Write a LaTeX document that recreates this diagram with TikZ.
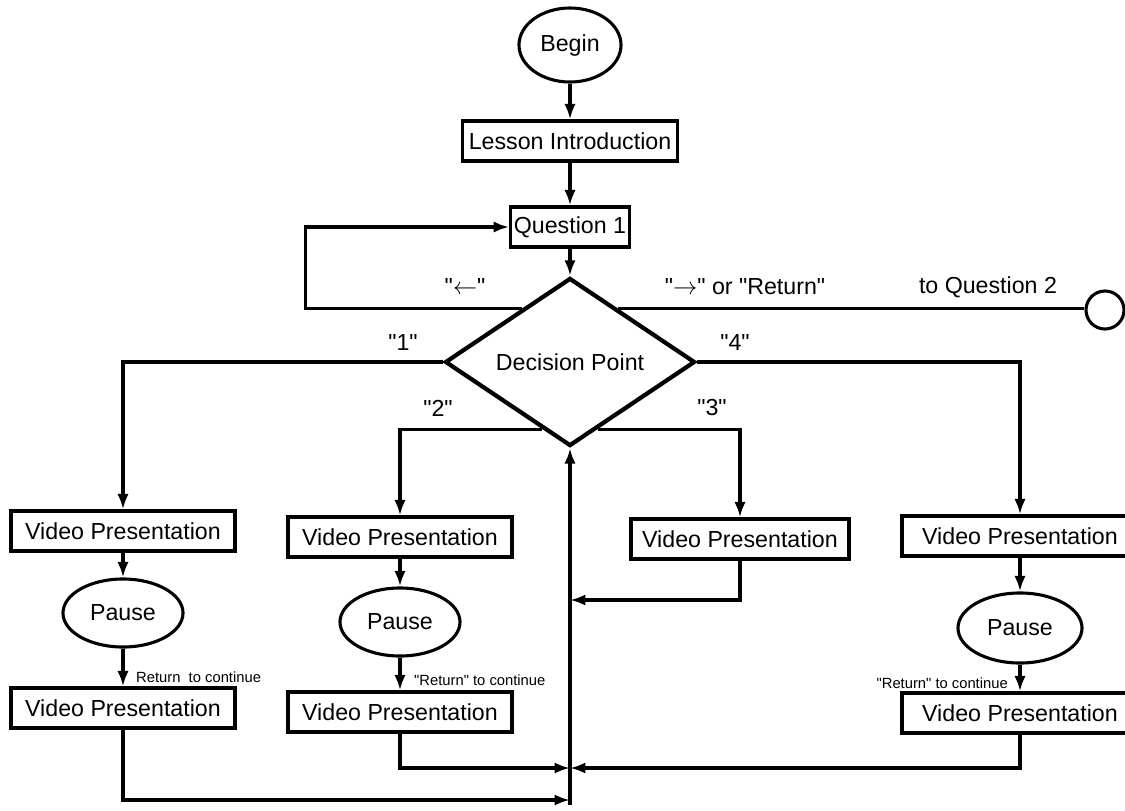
\documentclass[tikz,border=0pt]{standalone}
\usepackage{fontspec}
\setmainfont{Liberation Sans}[Ligatures=TeXOff]
\usetikzlibrary{shapes.geometric,arrows.meta,calc}

\newcommand{\flowfont}{\fontsize{16.5}{19}\selectfont}
\newcommand{\notefont}{\fontsize{10.5}{12}\selectfont}

\begin{document}
\begin{tikzpicture}[x=0.025cm, y=-0.025cm, line width=2.2pt,
		>={Latex[length=11pt,width=8pt]},
		box/.style={draw, rectangle, minimum height=1cm, inner xsep=0.15cm, font=\flowfont},
		vbox/.style={box, minimum width=5.6cm},
		oval/.style={draw, ellipse, inner sep=0pt, font=\flowfont},
		lbl/.style={font=\flowfont},
		note/.style={font=\notefont}]
			\useasboundingbox (0,0) rectangle (1125,810);

			\node[oval, minimum width=2.55cm, minimum height=1.85cm] (begin) at ( 570, 45 ) { Begin };
			\node[box] (intro) at ( 570, 141 ) { Lesson Introduction };
			\node[box, inner xsep=0.08cm] (q1) at ( 570, 227 ) { Question 1 };
			\node[draw, diamond, line width=3pt, minimum width=6.25cm, minimum height=4.2cm, inner sep=0pt, font=\flowfont] (dp) at ( 570, 362 ) { Decision Point };
			\node[draw, circle, minimum size=0.95cm, inner sep=0pt] (q2) at ( 1105, 310 ) {};

			\node[vbox] (vp1) at ( 123, 531 ) { Video Presentation };
			\node[vbox] (vp2) at ( 400, 537 ) { Video Presentation };
			\node[vbox, minimum width=5.45cm] (vp3) at ( 740, 539 ) { Video Presentation };
			\node[vbox, minimum width=5.9cm] (vp4) at ( 1020, 536 ) { Video Presentation };

			\node[oval, minimum width=3cm, minimum height=1.7cm] (p1) at ( 123, 613 ) { Pause };
			\node[oval, minimum width=3cm, minimum height=1.7cm] (p2) at ( 400, 622 ) { Pause };
			\node[oval, minimum width=3.1cm, minimum height=1.75cm] (p4) at ( 1020, 628 ) { Pause };

			\node[vbox] (vp1b) at ( 123, 708 ) { Video Presentation };
			\node[vbox] (vp2b) at ( 400, 712 ) { Video Presentation };
			\node[vbox, minimum width=5.9cm] (vp4b) at ( 1020, 713 ) { Video Presentation };

			\coordinate (lp) at ($(dp.north)!0.38!(dp.west)$);
			\coordinate (rp) at ($(dp.north)!0.38!(dp.east)$);
			\coordinate (c2) at ($(dp.west)!0.78!(dp.south)$);
			\coordinate (c3) at ($(dp.east)!0.78!(dp.south)$);
			\coordinate (bot) at ( 570, 805 );
			\coordinate (m3) at ( 570, 600 );
			\coordinate (m24) at ( 570, 768 );
			\coordinate (m1) at ( 570, 800 );

			\draw[->](begin) -- (intro);
			\draw[->](intro) -- (q1);
			\draw[->](q1) -- (dp);
			\draw[->](lp) -- ++(-216,0) |- (q1);
			\draw(rp) -- (rp -| q2.west);

			\draw[->](dp.west) -| (vp1);
			\draw[->](c2) -| (vp2);
			\draw[->](c3) -| (vp3);
			\draw[->](dp.east) -| (vp4);

			\draw[->](vp1) -- (p1);
			\draw[->](p1) -- (vp1b);
			\draw[->](vp2) -- (p2);
			\draw[->](p2) -- (vp2b);
			\draw[->](vp4) -- (p4);
			\draw[->](p4) -- (vp4b);

			\draw[->](bot) -- (dp.south);
			\draw[->](vp3) |- (m3);
			\draw[->](vp2b) |- (m24);
			\draw[->](vp4b) |- (m24);
			\draw[->](vp1b) |- (m1);

			\node[lbl] (kl) at ( 465, 287 ) { "$\leftarrow$" };
			\node[lbl] (kr) at ( 745, 287 ) { "$\rightarrow$" or "Return" };
			\node[lbl] (toq2) at ( 988, 287 ) { to Question 2 };
			\node[lbl] (k1) at ( 403, 343 ) { "1" };
			\node[lbl] (k4) at ( 735, 343 ) { "4" };
			\node[lbl] (k2) at ( 438, 408 ) { "2" };
			\node[lbl] (k3) at ( 712, 408 ) { "3" };
			\node[note, anchor=west] (r1) at ( 130, 677 ) { Return\ \ to continue };
			\node[note, anchor=west] (r2) at ( 408, 680 ) { "Return" to continue };
			\node[note, anchor=east] (r4) at ( 1014, 683 ) { "Return" to continue };
		\end{tikzpicture}
\end{document}
